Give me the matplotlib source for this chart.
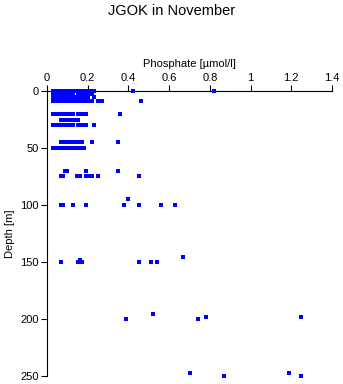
import matplotlib
matplotlib.use("Agg")
import matplotlib.pyplot as plt

plt.rcParams["font.family"] = ["Liberation Sans", "DejaVu Sans"]

depth_levels = [0, 3, 5, 9, 20, 25, 30, 45, 50, 70, 75, 95, 100, 146, 148, 150,
                196, 198, 200, 247, 250]
phosphate_levels = [
    [0.03, 0.05, 0.07, 0.09, 0.10, 0.11, 0.12, 0.13, 0.14, 0.15, 0.16, 0.17,
     0.18, 0.19, 0.20, 0.21, 0.22, 0.23, 0.42, 0.82],
    [0.03, 0.04, 0.06, 0.08, 0.09, 0.11, 0.12, 0.13, 0.15, 0.16, 0.17, 0.19,
     0.20, 0.22],
    [0.03, 0.05, 0.07, 0.09, 0.10, 0.12, 0.14, 0.15, 0.17, 0.18, 0.20, 0.23],
    [0.03, 0.05, 0.06, 0.07, 0.09, 0.10, 0.11, 0.12, 0.13, 0.14, 0.15, 0.16,
     0.17, 0.18, 0.19, 0.20, 0.22, 0.25, 0.27, 0.46],
    [0.03, 0.05, 0.06, 0.07, 0.08, 0.09, 0.10, 0.11, 0.13, 0.15, 0.17, 0.19, 0.36],
    [0.07, 0.08, 0.09, 0.10, 0.11, 0.12, 0.13, 0.14, 0.15],
    [0.03, 0.05, 0.07, 0.09, 0.11, 0.13, 0.15, 0.17, 0.19, 0.23],
    [0.07, 0.08, 0.09, 0.11, 0.12, 0.14, 0.15, 0.17, 0.22, 0.35],
    [0.03, 0.05, 0.06, 0.07, 0.08, 0.09, 0.10, 0.11, 0.12, 0.13, 0.14, 0.15,
     0.16, 0.18],
    [0.09, 0.10, 0.19, 0.35],
    [0.07, 0.08, 0.145, 0.16, 0.19, 0.20, 0.22, 0.25, 0.45],
    [0.40],
    [0.07, 0.08, 0.13, 0.19, 0.38, 0.45, 0.56, 0.63],
    [0.67],
    [0.16],
    [0.07, 0.15, 0.17, 0.45, 0.51, 0.54],
    [0.52],
    [0.78, 1.25],
    [0.39, 0.74],
    [0.70, 1.19],
    [0.87, 1.25],
]

depth = []
phosphate = []
for d, vals in zip(depth_levels, phosphate_levels):
    for v in vals:
        depth.append(d)
        phosphate.append(v)

fig = plt.figure(figsize=(3.43, 3.84), dpi=100)
ax = fig.add_axes([0.137, 0.021, 0.831, 0.742])

ax.scatter(phosphate, depth, marker="s", s=5, color="#0000ff", linewidths=0,
           clip_on=False, zorder=3)

ax.set_xlim(0, 1.4)
ax.set_ylim(250, 0)
ax.set_xticks([0, 0.2, 0.4, 0.6, 0.8, 1, 1.2, 1.4])
ax.set_xticklabels(["0", "0.2", "0.4", "0.6", "0.8", "1", "1.2", "1.4"])
ax.set_yticks([0, 50, 100, 150, 200, 250])

ax.xaxis.tick_top()
ax.xaxis.set_label_position("top")
ax.spines["right"].set_visible(False)
ax.spines["bottom"].set_visible(False)
ax.tick_params(axis="both", direction="out", length=4, width=0.8, labelsize=8, pad=2)
ax.set_xlabel("Phosphate [\u00b5mol/l]", fontsize=8, labelpad=4)
ax.set_ylabel("Depth [m]", fontsize=8, labelpad=4)

fig.suptitle("JGOK in November", fontsize=10.5, y=0.99)

fig.savefig("out.png", dpi=100)
plt.close(fig)
